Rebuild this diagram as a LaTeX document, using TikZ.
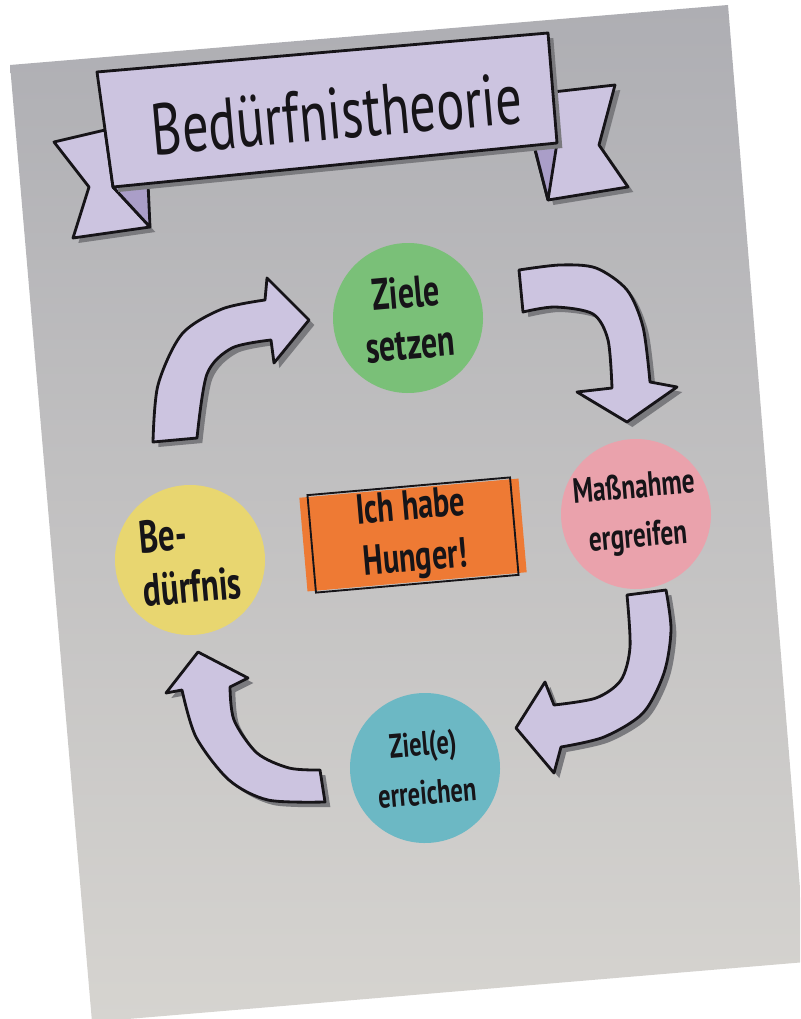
\documentclass[tikz,border=0pt]{standalone}
\usepackage{fontspec}
\newfontfamily\handfont[FakeStretch=0.72]{PT Sans}
\newfontfamily\titlefont[FakeStretch=0.72, Kerning=Off]{PT Sans}
\definecolor{paperhi}{RGB}{174,174,179}
\definecolor{paperlo}{RGB}{214,212,208}
\definecolor{lilac}{RGB}{204,196,224}
\definecolor{lilacdark}{RGB}{170,158,200}
\definecolor{shadowgray}{RGB}{122,122,126}
\definecolor{stickgreen}{RGB}{122,192,120}
\definecolor{stickpink}{RGB}{234,162,172}
\definecolor{stickyellow}{RGB}{232,214,112}
\definecolor{stickblue}{RGB}{108,184,196}
\definecolor{stickorange}{RGB}{238,122,52}
\definecolor{ink}{RGB}{22,20,24}

\tikzset{
	shadowed/.style={preaction={fill=shadowgray, transform canvas={shift={(1.6mm,-1.5mm)}}}},
	blockarrow/.style={shadowed, draw=ink, line width=2.4pt, line join=round, fill=lilac},
	ribbon/.style={shadowed, draw=ink, line width=2.4pt, line join=round, fill=lilac},
	sticker/.style={circle, minimum size=4.5cm, inner sep=0pt, rotate=5, align=center, text=ink,
		font=\handfont\bfseries\fontsize{38}{44}\selectfont},
}

\begin{document}
\begin{tikzpicture}[x=0.03cm, y=-0.03cm]
	\useasboundingbox (0,0) rectangle (800,1019);
	\clip (0,0) rectangle (800,1019);
	% the flipchart sheet
	\shade[top color=paperhi, bottom color=paperlo] (10,65) -- (728,5) -- (806,962) -- (92,1022) -- cycle;

	% banner: tails, folds, front
	\path[ribbon] (105,130) -- (54,142) -- (89,187) -- (73,238) -- (150,227) -- (113,187) -- cycle;
	\path[ribbon] (553,92) -- (615,85) -- (599,145) -- (628,187) -- (548,200) -- (534,146) -- cycle;
	\filldraw[draw=ink, line width=2.4pt, line join=round, fill=lilacdark] (113,187) -- (150,227) -- (148,183) -- cycle;
	\filldraw[draw=ink, line width=2.4pt, line join=round, fill=lilacdark] (534,145) -- (548,200) -- (557,143) -- cycle;
	\path[ribbon] (97,72) -- (548,33) -- (557,143) -- (113,187) -- cycle;
	\node[rotate=5, text=ink, font=\titlefont\fontsize{62}{66}\selectfont] (title) at (337,114) {Bedürfnistheorie};

	% the four arrows
	\path[blockarrow] plot[smooth] coordinates {(153,442) (158,385) (182,334) (222,309) (265,300)}
		-- (267,278) -- (309,320) -- (274,363)
		-- plot[smooth] coordinates {(271,340) (232,348) (207,374) (197,438)} -- cycle;
	\path[blockarrow] plot[smooth] coordinates {(519,270) (560,265) (596,268) (627,290) (643,327) (650,382)}
		-- (677,387) -- (627,422) -- (577,392)
		-- plot[smooth] coordinates {(612,388) (608,340) (593,314) (555,307) (523,312)} -- cycle;
	\path[blockarrow] plot[smooth] coordinates {(666,590) (671,630) (664,673) (643,713) (604,737) (561,747)}
		-- (554,773) -- (516,728) -- (545,682)
		-- plot[smooth] coordinates {(554,705) (596,698) (621,680) (630,647) (627,595)} -- cycle;
	\path[blockarrow] plot[smooth] coordinates {(325,802) (268,800) (229,780) (196,737) (182,690)}
		-- (166,693) -- (198,652) -- (248,678)
		-- plot[smooth] coordinates {(230,687) (234,720) (257,753) (289,768) (320,770)} -- cycle;

	% stickers
	\node[sticker, fill=stickgreen] (ziele) at (408,318) {Ziele\\setzen};
	\node[sticker, fill=stickpink, font=\handfont\bfseries\fontsize{30}{42}\selectfont] (massnahme) at (636,514) {Maßnahme\\ergreifen};
	\node[sticker, fill=stickyellow, align=left, font=\handfont\bfseries\fontsize{39}{46}\selectfont] (beduerfnis) at (190,560) {Be-\\dürfnis};
	\node[sticker, fill=stickblue, font=\handfont\bfseries\fontsize{29}{42}\selectfont] (erreichen) at (425,768) {Ziel(e)\\erreichen};

	% centre card
	\begin{scope}[shift={(413,535)}, rotate=5]
		\fill[stickorange] (-110,-47) rectangle (110,47);
	\end{scope}
	\node[draw=ink, line width=1.6pt, minimum width=6.1cm, minimum height=2.35cm, rotate=5, align=center, text=ink,
		font=\handfont\bfseries\fontsize{36}{44}\selectfont] (hunger) at (413,535) {Ich habe\\Hunger!};
\end{tikzpicture}
\end{document}
